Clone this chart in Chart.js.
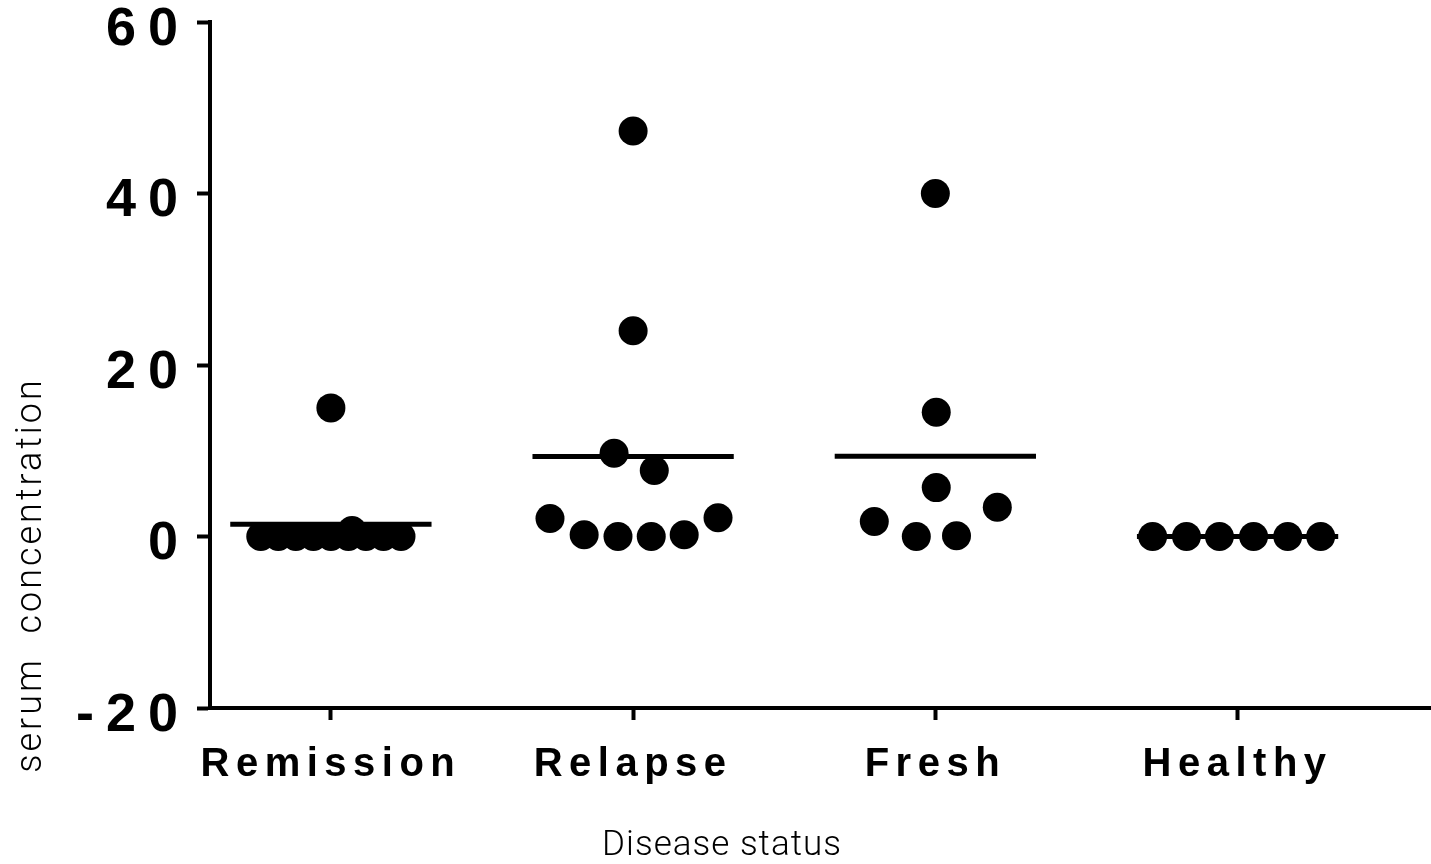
<!DOCTYPE html>
<html>
<head>
<meta charset="utf-8">
<script src="https://cdn.jsdelivr.net/npm/chart.js@4.4.1/dist/chart.umd.min.js"></script>
<style>
  html, body { margin: 0; padding: 0; background: #fff; }
  #wrap { width: 1431px; height: 864px; }
</style>
</head>
<body>
<div id="wrap"><canvas id="myChart" width="1431" height="864"></canvas></div>
<script>
const categories = ['Remission', 'Relapse', 'Fresh', 'Healthy'];
const yTicks = [-20, 0, 20, 40, 60];

// values, with each dot's sideways spread (in category units)
const remissionValues = [15, 0.7, 0, 0, 0, 0, 0, 0, 0, 0, 0];
const remissionSpread = [0, 0.07, -0.232, -0.174, -0.116, -0.058, 0, 0.058, 0.116, 0.174, 0.232];
const relapseValues = [47.3, 24, 9.7, 7.7, 2.1, 0.2, 0, 0, 0.2, 2.2];
const relapseSpread = [0, 0, -0.063, 0.07, -0.275, -0.162, -0.05, 0.06, 0.169, 0.281];
const freshValues = [40, 14.5, 5.7, 1.75, 0, 0.1, 3.4];
const freshSpread = [0, 0.003, 0.003, -0.202, -0.063, 0.07, 0.205];
const healthyValues = [0, 0, 0, 0, 0, 0];
const healthySpread = [-0.281, -0.169, -0.06, 0.053, 0.166, 0.275];

const groupValues = [remissionValues, relapseValues, freshValues, healthyValues];
const groupSpread = [remissionSpread, relapseSpread, freshSpread, healthySpread];

const mean = a => a.reduce((s, v) => s + v, 0) / a.length;

// letter spacing per axis for the tick labels
const labelSpacing = { x: '6.5px', y: '12px' };

class SpacedLinearScale extends Chart.LinearScale {
  drawLabels(chartArea) {
    const ctx = this.ctx;
    ctx.save();
    ctx.letterSpacing = labelSpacing[this.id] || '0px';
    super.drawLabels(chartArea);
    ctx.restore();
  }
}
SpacedLinearScale.id = 'spacedLinear';
SpacedLinearScale.defaults = Chart.LinearScale.defaults;
Chart.register(SpacedLinearScale);

const axisTitles = {
  id: 'axisTitles',
  afterDraw(chart) {
    const ctx = chart.ctx;
    ctx.save();
    ctx.fillStyle = '#000';
    ctx.textAlign = 'center';
    ctx.textBaseline = 'middle';
    ctx.font = '300 35px Roboto';
    ctx.letterSpacing = '1px';
    ctx.fillText('Disease status', 722, 846);
    ctx.translate(32, 575);
    ctx.rotate(-Math.PI / 2);
    ctx.font = '300 36px Roboto';
    ctx.letterSpacing = '3px';
    ctx.fillText('serum  concentration', 0, 0);
    ctx.restore();
  }
};

const datasets = [];
groupValues.forEach((vals, i) => {
  const m = mean(vals);
  datasets.push({
    type: 'line',
    data: [{ x: i - 0.333, y: m }, { x: i + 0.333, y: m }],
    borderColor: '#000',
    borderWidth: 5,
    pointRadius: 0,
    borderCapStyle: 'butt'
  });
  datasets.push({
    type: 'scatter',
    data: vals.map((v, j) => ({ x: i + groupSpread[i][j], y: v })),
    backgroundColor: '#000',
    borderWidth: 0,
    pointRadius: 14.5
  });
});

const ctx = document.getElementById('myChart').getContext('2d');
const myChart = new Chart(ctx, {
  data: { datasets: datasets },
  plugins: [axisTitles],
  options: {
    responsive: false,
    animation: false,
    devicePixelRatio: 1,
    layout: { autoPadding: false, padding: { top: 22, right: 0, bottom: 0, left: 0 } },
    plugins: {
      legend: { display: false },
      tooltip: { enabled: false }
    },
    scales: {
      x: {
        type: 'spacedLinear',
        min: -0.4,
        max: 3.64,
        afterBuildTicks: s => { s.ticks = categories.map((c, i) => ({ value: i })); },
        afterFit: s => { s.height = 156; s.paddingLeft = 0; s.paddingRight = 0; },
        grid: { drawOnChartArea: false, drawTicks: true, tickLength: 12, tickWidth: 4, tickColor: '#000' },
        border: { display: true, width: 4, color: '#000' },
        ticks: {
          autoSkip: false,
          maxRotation: 0,
          padding: 21,
          color: '#000',
          font: { family: 'Liberation Sans, Arial', size: 40, weight: 'bold' },
          callback: v => categories[v]
        }
      },
      y: {
        type: 'spacedLinear',
        min: -20,
        max: 60,
        afterBuildTicks: s => { s.ticks = yTicks.map(v => ({ value: v })); },
        afterFit: s => { s.width = 210; s.paddingTop = 0; s.paddingBottom = 0; },
        grid: { drawOnChartArea: false, drawTicks: true, tickLength: 13, tickWidth: 4, tickColor: '#000' },
        border: { display: true, width: 4, color: '#000' },
        ticks: {
          padding: 7,
          labelOffset: 8,
          color: '#000',
          font: { family: 'Liberation Sans, Arial', size: 54, weight: 'bold' }
        }
      }
    }
  }
});
</script>
</body>
</html>
